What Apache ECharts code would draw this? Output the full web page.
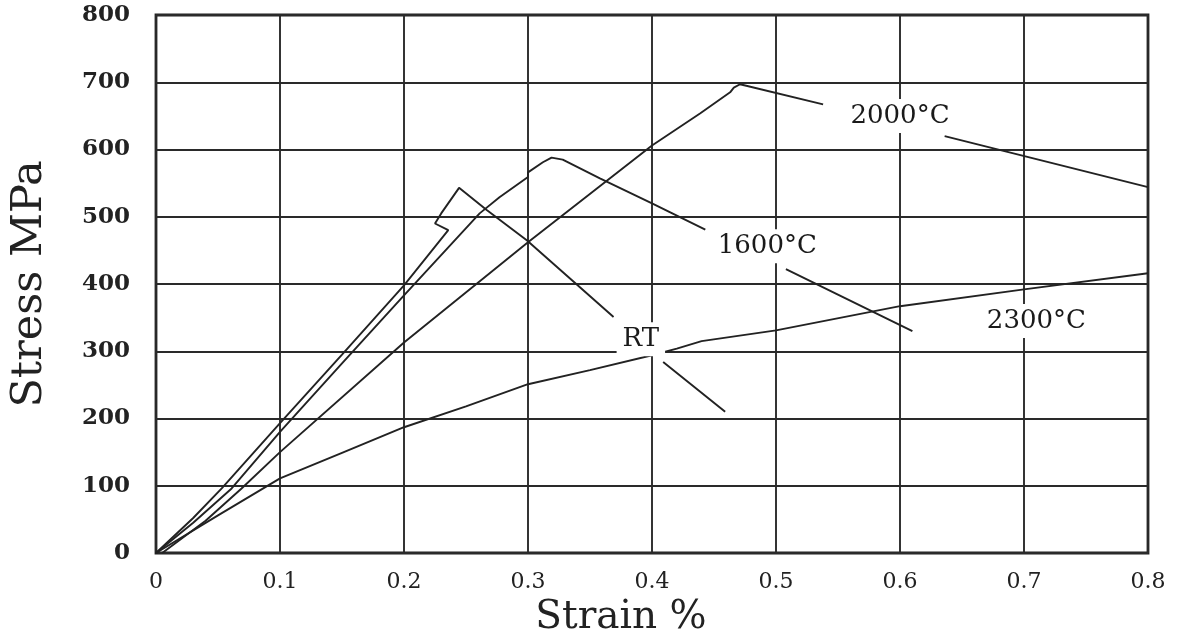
<!DOCTYPE html>
<html>
<head>
<meta charset="utf-8">
<script src="https://cdn.jsdelivr.net/npm/echarts@6/dist/echarts.min.js"></script>
<style>
html,body{margin:0;padding:0;background:#fff;}
#chart{width:1185px;height:637px;}
</style>
</head>
<body>
<div id="chart"></div>
<script>
// Tick labels
var xTicks = [0, 0.1, 0.2, 0.3, 0.4, 0.5, 0.6, 0.7, 0.8];
var yTicks = [0, 100, 200, 300, 400, 500, 600, 700, 800];

// RT curve (null = break where the label interrupts the line)
var rtStrain = [0, 0.03, 0.053, 0.1, 0.15, 0.2, 0.2357, 0.225, 0.230, 0.2444, 0.2667, 0.299, 0.369, null, 0.409, 0.459];
var rtStress = [0, 52, 96, 193, 295, 398, 480, 490, 505, 543, 510, 465, 351, null, 284, 210];

// 1600°C curve
var c1600Strain = [0, 0.03, 0.061, 0.1, 0.15, 0.2, 0.261, 0.277, 0.300, 0.300, 0.312, 0.319, 0.328, 0.358, 0.40, 0.443, null, 0.508, 0.61];
var c1600Stress = [0, 45, 96, 180, 282, 383, 505, 529, 559, 566, 581, 588, 585, 557, 520, 481, null, 422, 330];

// 2000°C curve
var c2000Strain = [0.005, 0.04, 0.069, 0.1, 0.2, 0.3, 0.4, 0.439, 0.463, 0.466, 0.471, 0.538, null, 0.636, 0.8];
var c2000Stress = [0, 48, 96, 150, 313, 462, 606, 654, 685, 692, 697, 667, null, 620, 544];

// 2300°C curve
var c2300Strain = [0, 0.05, 0.1, 0.15, 0.2, 0.25, 0.3, 0.35, 0.4, 0.42, 0.44, 0.5, 0.6, 0.7, 0.8];
var c2300Stress = [0, 56, 111, 149, 187, 218, 251, 272, 294, 304, 315, 331, 367, 392, 416];

// Curve labels
var labelTexts = ['RT', '1600°C', '2000°C', '2300°C'];
var labelStrain = [0.391, 0.493, 0.600, 0.710];
var labelStress = [318, 456, 650, 345];

function zip(xs, ys) {
  var out = [];
  for (var i = 0; i < xs.length; i++) {
    if (xs[i] === null || ys[i] === null) out.push('-');
    else out.push([xs[i], ys[i]]);
  }
  return out;
}

var FONT = 'DejaVu Serif';
var INK = '#222222';

function curve(name, xs, ys) {
  return {
    name: name, type: 'line', data: zip(xs, ys),
    showSymbol: false, symbol: 'none', connectNulls: false,
    lineStyle: { color: INK, width: 1.9 }, z: 3, animation: false,
    emphasis: { disabled: true }
  };
}

var labelData = labelTexts.map(function (t, i) {
  return { value: [labelStrain[i], labelStress[i]], name: t };
});

var chart = echarts.init(document.getElementById('chart'), null, { renderer: 'canvas' });
chart.setOption({
  animation: false,
  backgroundColor: '#fff',
  grid: { left: 156, right: 37, top: 15, bottom: 84, show: true, borderColor: INK, borderWidth: 2.8, backgroundColor: 'transparent', containLabel: false, outerBoundsMode: 'none' },
  xAxis: {
    type: 'value', min: 0, max: 0.8, interval: 0.1,
    name: 'Strain %', nameLocation: 'middle', nameGap: 35,
    nameTextStyle: { fontFamily: FONT, fontSize: 39, color: INK, padding: [0, 62, 0, 0] },
    axisLine: { show: false }, axisTick: { show: false },
    splitLine: { show: true, lineStyle: { color: '#2a2a2a', width: 1.9 } },
    axisLabel: {
      fontFamily: FONT, fontSize: 22, color: INK, margin: 18,
      formatter: function (v) { var s = Math.round(v * 10) / 10; return xTicks.indexOf(s) >= 0 ? String(s) : ''; }
    }
  },
  yAxis: {
    type: 'value', min: 0, max: 800, interval: 100,
    name: 'Stress MPa', nameLocation: 'middle', nameGap: 105, nameRotate: 90,
    nameTextStyle: { fontFamily: FONT, fontSize: 43, color: INK },
    axisLine: { show: false }, axisTick: { show: false },
    splitLine: { show: true, lineStyle: { color: '#2a2a2a', width: 1.9 } },
    axisLabel: {
      fontFamily: FONT, fontSize: 23, fontWeight: 'bold', color: INK, margin: 26,
      formatter: function (v) { return yTicks.indexOf(v) >= 0 ? String(v) : ''; }
    }
  },
  series: [
    curve('RT', rtStrain, rtStress),
    curve('1600°C', c1600Strain, c1600Stress),
    curve('2000°C', c2000Strain, c2000Stress),
    curve('2300°C', c2300Strain, c2300Stress),
    {
      type: 'scatter', data: labelData, symbolSize: 1, z: 10,
      itemStyle: { color: '#ffffff', opacity: 1 },
      label: {
        show: true, position: 'inside', formatter: '{b}',
        fontFamily: FONT, fontSize: 26, color: '#1a1a1a', opacity: 1,
        backgroundColor: '#ffffff', padding: [4, 6]
      },
      emphasis: { disabled: true }, silent: true
    }
  ]
});
</script>
</body>
</html>
